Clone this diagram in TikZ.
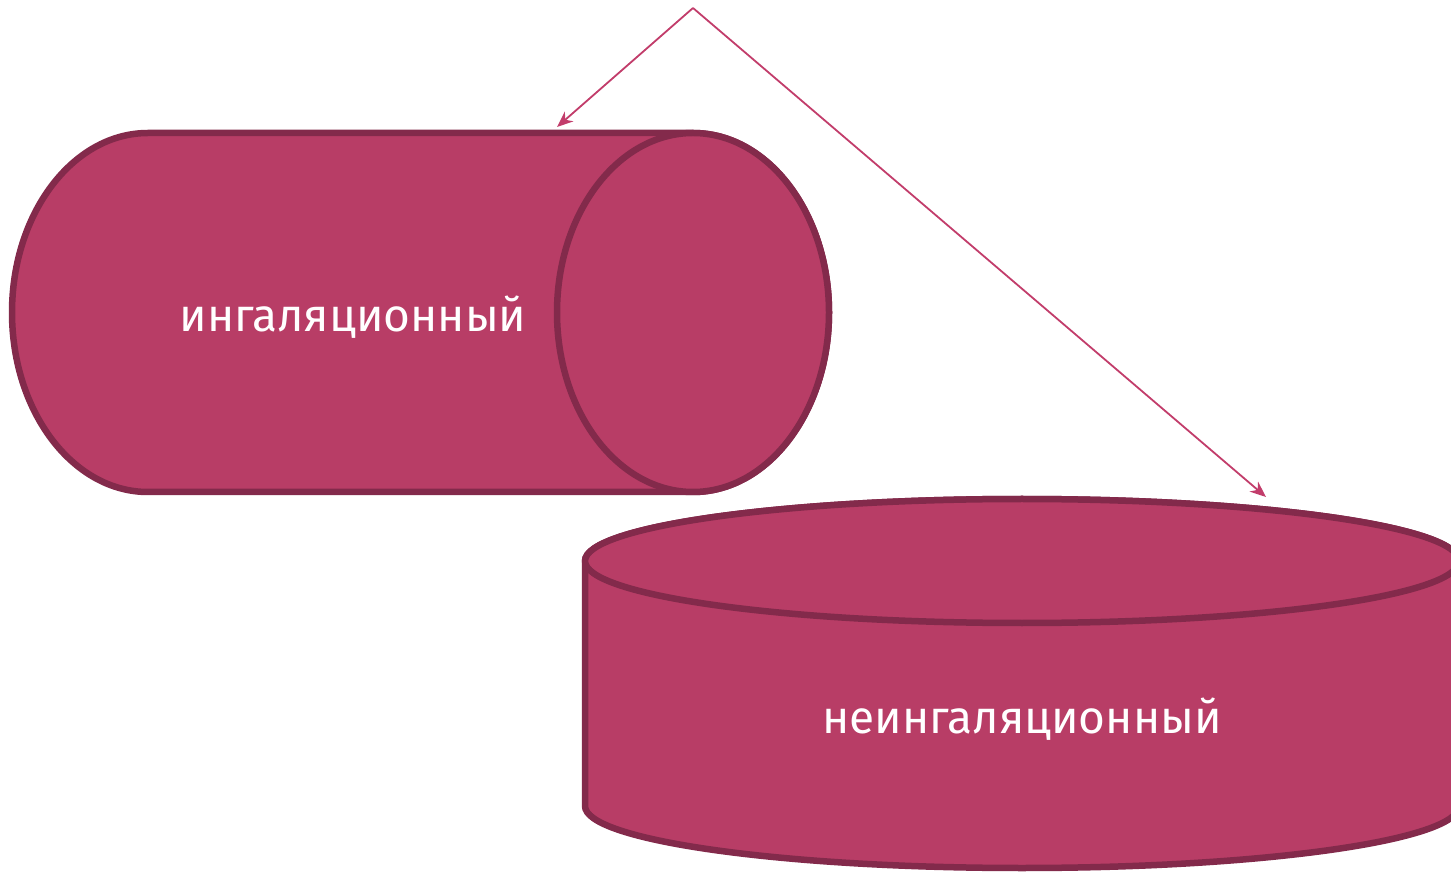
\documentclass[tikz,border=0pt]{standalone}
\usepackage{fontspec}
\setmainfont{Fira Sans}
\usetikzlibrary{arrows.meta}
\definecolor{cylfill}{HTML}{B83D66}
\definecolor{cylline}{HTML}{832A4B}
\definecolor{arrcol}{HTML}{C23D6B}
\tikzset{
  cyl/.style={fill=cylfill, draw=cylline, line width=6.5pt, line join=round},
  arr/.style={draw=arrcol, line width=1.8pt, -{Stealth[length=16pt,width=13pt,inset=5pt]}},
  lbl/.style={text=white, font=\fontsize{46}{52}\selectfont, inner sep=0pt}
}
\begin{document}
\begin{tikzpicture}[x=1pt,y=1pt]
\useasboundingbox (0,0) rectangle (1451,871);
\clip (0,0) rectangle (1451,871);
% horizontal cylinder
\path[cyl] (148,738) -- (693,738)
  arc[start angle=90,end angle=-90,x radius=136,y radius=179.5]
  -- (148,379)
  arc[start angle=270,end angle=90,x radius=136,y radius=179.5] -- cycle;
\path[cyl] (693,558.5) ellipse[x radius=136,y radius=179.5];
% vertical cylinder
\path[cyl] (585,310) -- (585,65)
  arc[start angle=180,end angle=360,x radius=437,y radius=62]
  -- (1459,310)
  arc[start angle=0,end angle=180,x radius=437,y radius=62] -- cycle;
\path[cyl] (1022,310) ellipse[x radius=437,y radius=62];
% labels
\node[lbl] (inh) at (353,554) {ингаляционный};
\node[lbl] (noninh) at (1022,152) {неингаляционный};
% arrows
\coordinate (apex) at (693,863);
\coordinate (t1) at (557,744);
\coordinate (t2) at (1266,374);
\draw[arr] (apex) -- (t1);
\draw[arr] (apex) -- (t2);
\end{tikzpicture}
\end{document}
